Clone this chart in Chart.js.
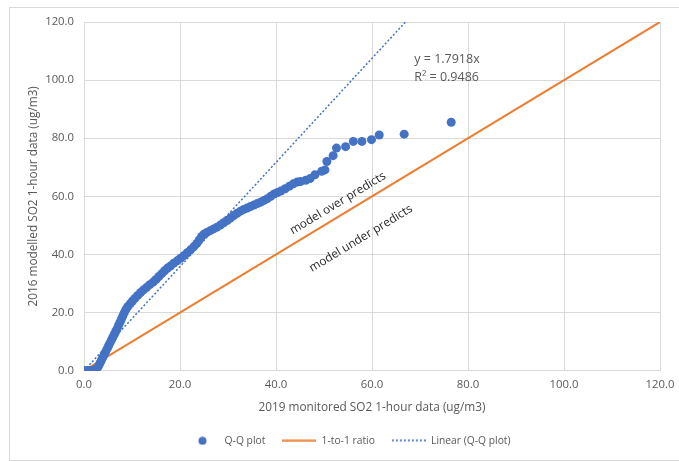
<!DOCTYPE html>
<html>
<head>
<meta charset="utf-8">
<script src="https://cdn.jsdelivr.net/npm/chart.js@4.4.1/dist/chart.umd.min.js"></script>
<style>
    body { margin: 0; background: #fff; }
    .wrap { position: relative; width: 679px; height: 461px; }
    .frame { position: absolute; left: 9px; top: 7px; width: 680px; height: 452px; border: 1px solid #d9d9d9; pointer-events: none; }
</style>
</head>
<body>
<div class="wrap">
    <canvas id="qq" width="679" height="461"></canvas>
    <div class="frame"></div>
</div>
<script>
// Q-Q pairs: monitored (x) vs modelled (y), ug/m3
const qqX = [
    0.0, 0.3, 0.6, 0.9, 1.2, 1.5, 1.8, 2.1, 2.4, 2.7,
    3.0, 3.3, 3.6, 3.9, 4.2, 4.5, 4.8, 5.1, 5.4, 5.7,
    6.0, 6.3, 6.6, 6.9, 7.2, 7.5, 7.8, 8.1, 8.4, 8.7,
    9.1, 9.6, 10.1, 10.6, 11.2, 11.8, 12.4, 13.0, 13.7, 14.4,
    15.0, 15.6, 16.2, 16.8, 17.4, 18.0, 18.7, 19.4, 20.1, 20.8,
    21.5, 22.2, 22.9, 23.5, 24.0, 24.5, 25.0, 25.6, 26.3, 27.0,
    27.7, 28.4, 29.1, 29.8, 30.5, 31.2, 31.9, 32.6, 33.3, 34.0,
    34.7, 35.4, 36.1, 36.8, 37.5, 38.2, 38.9, 39.6, 40.3, 41.0,
    41.9, 42.8, 43.6, 44.4, 45.1, 46.2, 47.1, 48.1, 49.5, 50.2,
    50.6, 51.9, 52.6, 54.5, 56.1, 57.9, 59.9, 61.5, 66.7, 76.5
];
const qqY = [
    0.0, 0.0, 0.0, 0.0, 0.0, 0.0, 0.0, 0.1, 0.3, 0.8,
    1.5, 2.5, 3.5, 4.5, 5.5, 6.5, 7.5, 8.5, 9.5, 10.5,
    11.5, 12.5, 13.5, 14.5, 15.6, 16.7, 17.8, 18.9, 20.0, 21.0,
    22.0, 23.0, 24.0, 24.9, 25.9, 26.9, 27.8, 28.6, 29.6, 30.5,
    31.4, 32.4, 33.4, 34.4, 35.3, 36.0, 37.0, 37.8, 38.7, 39.6,
    40.6, 41.6, 42.7, 43.8, 45.0, 46.2, 47.0, 47.6, 48.2, 48.8,
    49.4, 50.1, 50.9, 51.7, 52.5, 53.4, 54.2, 54.9, 55.5, 56.0,
    56.5, 57.0, 57.5, 58.0, 58.6, 59.2, 60.0, 60.8, 61.3, 61.8,
    62.6, 63.5, 64.3, 64.9, 65.1, 65.5, 66.1, 67.4, 68.6, 69.1,
    72.0, 74.0, 76.6, 77.1, 78.9, 78.9, 79.5, 81.1, 81.4, 85.5
];

// 1-to-1 reference line
const ratioX = [0, 120];
const ratioY = [0, 120];

// Excel linear trendline y = 1.7918x, drawn until it leaves the top of the plot
const trendX = [0, 66.97];
const trendY = [0, 120];

const axisTicks = [0, 20, 40, 60, 80, 100, 120];

const BLUE = '#4472C4';
const ORANGE = '#ED7D31';
const GREY = '#595959';
const GRID = '#d9d9d9';

Chart.defaults.font.family = "'Open Sans', sans-serif";
Chart.defaults.color = GREY;

const pts = (xs, ys) => xs.map((x, i) => ({ x, y: ys[i] }));

// small canvases used as legend icons
function icon(w, h, draw) {
    const c = document.createElement('canvas');
    c.width = w; c.height = h;
    draw(c.getContext('2d'));
    return c;
}
const dotIcon = icon(9, 9, ctx => {
    ctx.fillStyle = BLUE;
    ctx.beginPath(); ctx.arc(4.5, 4.5, 4, 0, Math.PI * 2); ctx.fill();
});
const lineIcon = icon(34, 3, ctx => {
    ctx.strokeStyle = ORANGE; ctx.lineWidth = 2;
    ctx.beginPath(); ctx.moveTo(0, 1.5); ctx.lineTo(34, 1.5); ctx.stroke();
});
const dotLineIcon = icon(34, 3, ctx => {
    ctx.fillStyle = BLUE;
    for (let x = 0; x < 34; x += 4) ctx.fillRect(x, 0.5, 2, 1.6);
});

const annotations = {
    id: 'annotations',
    afterLayout(chart) {
        // the legend sits a little right of centre in the original
        chart.legend.left += 18;
        chart.legend.right += 18;
    },
    afterDatasetsDraw(chart) {
        const { ctx, scales: { x, y } } = chart;
        ctx.save();
        // trendline equation
        ctx.fillStyle = GREY;
        ctx.font = "12.5px 'Open Sans'";
        ctx.textAlign = 'left';
        ctx.textBaseline = 'middle';
        ctx.fillText('y = 1.7918x', x.getPixelForValue(68.8), y.getPixelForValue(107.2));
        ctx.fillText('R² = 0.9486', x.getPixelForValue(68.8), y.getPixelForValue(101.0));

        // labels either side of the 1-to-1 line, rotated along it
        const ang = Math.atan2(y.getPixelForValue(100) - y.getPixelForValue(0),
                               x.getPixelForValue(100) - x.getPixelForValue(0));
        ctx.fillStyle = '#262626';
        ctx.font = "11.8px 'Open Sans'";
        ctx.textAlign = 'center';
        [['model over predicts', 52.9, 57.6], ['model under predicts', 57.7, 45.5]].forEach(([t, vx, vy]) => {
            ctx.save();
            ctx.translate(x.getPixelForValue(vx), y.getPixelForValue(vy));
            ctx.rotate(ang);
            ctx.fillText(t, 0, 0);
            ctx.restore();
        });
        ctx.restore();
    }
};

new Chart(document.getElementById('qq'), {
    type: 'scatter',
    data: {
        datasets: [
            {
                label: 'Q-Q plot',
                data: pts(qqX, qqY),
                backgroundColor: BLUE,
                borderColor: BLUE,
                pointRadius: 4.5,
                borderWidth: 0,
                legendIcon: dotIcon,
            },
            {
                label: '1-to-1 ratio',
                data: pts(ratioX, ratioY),
                showLine: true,
                borderColor: ORANGE,
                borderWidth: 2,
                pointRadius: 0,
                legendIcon: lineIcon,
            },
            {
                label: 'Linear (Q-Q plot)',
                data: pts(trendX, trendY),
                showLine: true,
                borderColor: BLUE,
                borderWidth: 1.5,
                borderDash: [2, 2],
                pointRadius: 0,
                legendIcon: dotLineIcon,
            },
        ]
    },
    options: {
        responsive: false,
        animation: false,
        layout: { padding: { top: 22, right: 19, left: 0, bottom: 5 } },
        scales: {
            x: {
                type: 'linear',
                min: 0, max: 120,
                afterBuildTicks: s => { s.ticks = axisTicks.map(v => ({ value: v })); },
                afterFit: s => { s.height = 48; s.paddingRight = 0; s.paddingLeft = 0; },
                ticks: { padding: 7, font: { size: 11.3 }, color: GREY, callback: v => v.toFixed(1) },
                grid: { color: GRID, drawTicks: false },
                border: { color: GRID },
                title: {
                    display: true,
                    text: '2019 monitored SO2 1-hour data (ug/m3)',
                    font: { size: 11.8 },
                    color: GREY,
                    padding: { top: 0, bottom: 4 },
                },
            },
            y: {
                type: 'linear',
                min: 0, max: 120,
                afterBuildTicks: s => { s.ticks = axisTicks.map(v => ({ value: v })); },
                afterFit: s => { s.width = 84; },
                ticks: { padding: 10, font: { size: 11.3 }, color: GREY, callback: v => v.toFixed(1) },
                grid: { color: GRID, drawTicks: false },
                border: { color: GRID },
                title: {
                    display: true,
                    text: '2016 modelled SO2 1-hour data (ug/m3)',
                    font: { size: 11.8 },
                    color: GREY,
                    padding: { top: 27, bottom: 0 },
                },
            },
        },
        plugins: {
            legend: {
                position: 'bottom',
                labels: {
                    usePointStyle: true,
                    pointStyleWidth: 34,
                    padding: 17,
                    font: { size: 10.3 },
                    color: GREY,
                    generateLabels: chart => chart.data.datasets.map((ds, i) => ({
                        text: ds.label,
                        pointStyle: ds.legendIcon,
                        fillStyle: 'transparent',
                        strokeStyle: 'transparent',
                        lineWidth: 0,
                        fontColor: GREY,
                        datasetIndex: i,
                        hidden: false,
                    })),
                },
            },
            tooltip: { enabled: false },
        },
    },
    plugins: [annotations],
});
</script>
</body>
</html>
